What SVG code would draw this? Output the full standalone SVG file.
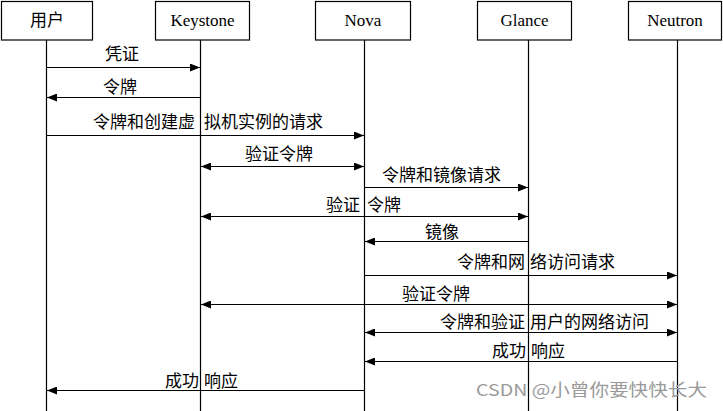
<svg xmlns="http://www.w3.org/2000/svg" width="723" height="411" viewBox="0 0 723 411">
<style>
.box{fill:#fff;stroke:#000;stroke-width:1.2}
.life{stroke:#000;stroke-width:1.2;fill:none}
.msg{stroke:#000;stroke-width:1.2;fill:none}
.t{font-family:"Liberation Serif","Noto Sans CJK SC",serif;font-size:17px;fill:#000}
.c{text-anchor:middle}
.wm{font-family:"Noto Sans CJK SC","Liberation Sans",sans-serif;font-size:16.5px;fill:#9a9a9a}
</style>
<defs>
<marker id="ah" markerWidth="10" markerHeight="8" refX="10" refY="4" orient="auto-start-reverse" markerUnits="userSpaceOnUse">
<path d="M0,0 L10,4 L0,8 Z" fill="#000"/>
</marker>
</defs>
<rect width="723" height="411" fill="#fff"/>
<g id="lifelines">
<line class="life" x1="46.5" y1="40" x2="46.5" y2="411"/>
<line class="life" x1="200.5" y1="40" x2="200.5" y2="411"/>
<line class="life" x1="364.5" y1="40" x2="364.5" y2="411"/>
<line class="life" x1="528.5" y1="40" x2="528.5" y2="411"/>
<line class="life" x1="677.5" y1="40" x2="677.5" y2="411"/>
</g>
<g id="user"><rect class="box" x="1.5" y="1.5" width="91" height="38.5"/><text class="t c" x="47" y="26">用户</text></g>
<g id="keystone"><rect class="box" x="155.5" y="1.5" width="94" height="38.5"/><text class="t c" x="202.5" y="26">Keystone</text></g>
<g id="nova"><rect class="box" x="315.5" y="1.5" width="95" height="38.5"/><text class="t c" x="363" y="26">Nova</text></g>
<g id="glance"><rect class="box" x="477.5" y="1.5" width="94" height="38.5"/><text class="t c" x="524.5" y="26">Glance</text></g>
<g id="neutron"><rect class="box" x="628.5" y="1.5" width="93" height="38.5"/><text class="t c" x="675" y="26">Neutron</text></g>
<g id="connectors">
<line class="msg" x1="46.5" y1="67.5" x2="200" y2="67.5" marker-end="url(#ah)"/>
<line class="msg" x1="200.5" y1="97.5" x2="47" y2="97.5" marker-end="url(#ah)"/>
<line class="msg" x1="46.5" y1="135.5" x2="364" y2="135.5" marker-end="url(#ah)"/>
<line class="msg" x1="201" y1="166.5" x2="364" y2="166.5" marker-start="url(#ah)" marker-end="url(#ah)"/>
<line class="msg" x1="364.5" y1="187.5" x2="528" y2="187.5" marker-end="url(#ah)"/>
<line class="msg" x1="201" y1="216.5" x2="528" y2="216.5" marker-start="url(#ah)" marker-end="url(#ah)"/>
<line class="msg" x1="528.5" y1="241.5" x2="365" y2="241.5" marker-end="url(#ah)"/>
<line class="msg" x1="364.5" y1="275.5" x2="677" y2="275.5" marker-end="url(#ah)"/>
<line class="msg" x1="201" y1="304.5" x2="677" y2="304.5" marker-start="url(#ah)" marker-end="url(#ah)"/>
<line class="msg" x1="365" y1="332.5" x2="677" y2="332.5" marker-start="url(#ah)" marker-end="url(#ah)"/>
<line class="msg" x1="677.5" y1="361.5" x2="365" y2="361.5" marker-end="url(#ah)"/>
<line class="msg" x1="364.5" y1="390.5" x2="47" y2="390.5" marker-end="url(#ah)"/>
</g>
<g id="labels">
<text class="t" x="105" y="60">凭证</text>
<text class="t" x="103" y="93">令牌</text>
<text class="t" y="128"><tspan x="93">令牌和创建虚</tspan><tspan x="204">拟机实例的请求</tspan></text>
<text class="t" x="245" y="160">验证令牌</text>
<text class="t" x="382" y="181">令牌和镜像请求</text>
<text class="t" y="211"><tspan x="326">验证</tspan><tspan x="367">令牌</tspan></text>
<text class="t" x="425" y="238">镜像</text>
<text class="t" y="268"><tspan x="457">令牌和网</tspan><tspan x="530">络访问请求</tspan></text>
<text class="t" x="402" y="300">验证令牌</text>
<text class="t" y="328"><tspan x="440">令牌和验证</tspan><tspan x="530">用户的网络访问</tspan></text>
<text class="t" y="357"><tspan x="492">成功</tspan><tspan x="531">响应</tspan></text>
<text class="t" y="387"><tspan x="165">成功</tspan><tspan x="204">响应</tspan></text>
</g>
<text class="wm" x="476" y="396" textLength="231" lengthAdjust="spacingAndGlyphs">CSDN @小曾你要快快长大</text>
</svg>
